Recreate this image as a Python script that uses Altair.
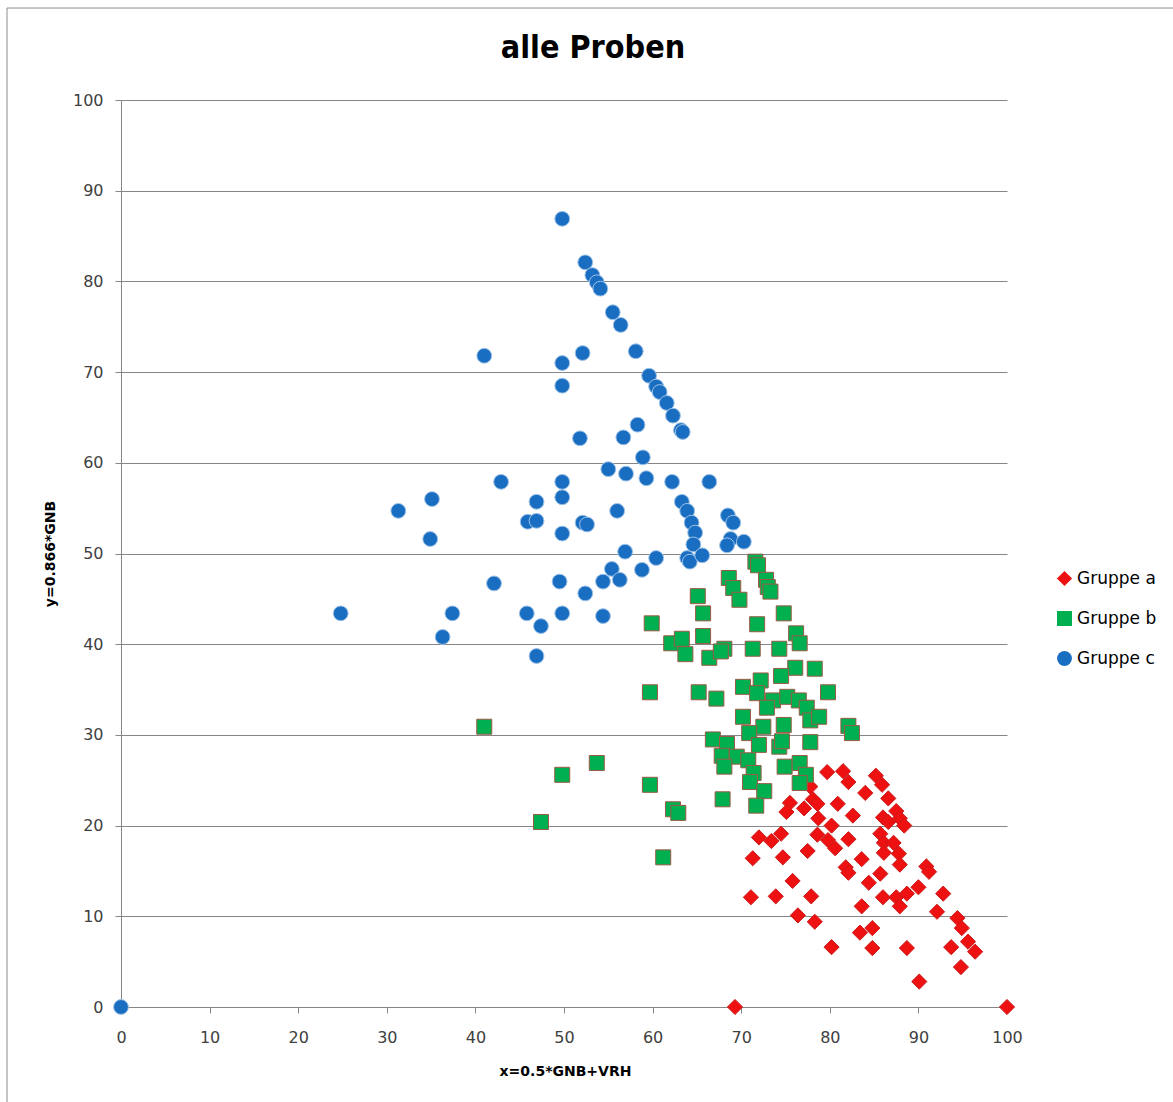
import altair as alt
import pandas as pd

# Gruppe a (red diamonds)
a_x = [79.7, 81.5, 82.1, 85.2, 85.9, 84.0, 86.6, 77.8, 78.1, 78.6, 75.5, 75.1, 77.1, 80.9,
       82.6, 78.7, 80.2, 86.0, 86.6, 87.5, 87.9, 88.4, 72.0, 73.4, 74.5, 78.6, 79.8, 80.6,
       82.1, 85.7, 86.1, 87.2, 71.3, 74.7, 77.5, 83.6, 86.1, 87.8, 87.9, 81.8, 82.1, 85.7,
       84.4, 90.9, 91.2, 75.8, 71.1, 73.9, 77.9, 86.0, 87.5, 88.7, 87.9, 90.0, 92.8, 83.6,
       76.4, 78.3, 92.1, 94.4, 94.9, 95.6, 96.4, 83.4, 84.8, 80.2, 84.8, 88.7, 93.7, 94.8,
       90.1, 69.3, 100.0]
a_y = [25.9, 26.0, 24.8, 25.5, 24.5, 23.6, 23.0, 24.3, 22.9, 22.4, 22.5, 21.5, 21.9, 22.4,
       21.1, 20.8, 20.0, 20.9, 20.4, 21.6, 20.8, 20.0, 18.7, 18.3, 19.1, 19.0, 18.4, 17.5,
       18.5, 19.1, 18.1, 18.1, 16.4, 16.5, 17.2, 16.3, 17.0, 16.9, 15.7, 15.4, 14.8, 14.7,
       13.7, 15.5, 14.9, 13.9, 12.1, 12.2, 12.2, 12.1, 12.1, 12.5, 11.1, 13.2, 12.5, 11.1,
       10.1, 9.4, 10.5, 9.8, 8.7, 7.2, 6.1, 8.2, 8.7, 6.6, 6.5, 6.5, 6.6, 4.4,
       2.8, 0.0, 0.0]

# Gruppe b (green squares)
b_x = [71.6, 71.9, 68.6, 69.1, 69.8, 72.8, 73.0, 73.3, 65.1, 65.7, 74.8, 59.9, 71.8, 76.2,
       76.6, 65.7, 62.1, 63.3, 63.7, 66.4, 68.1, 67.7, 71.3, 74.3, 76.1, 78.3, 74.5, 72.2,
       70.2, 59.7, 65.2, 67.2, 71.8, 73.6, 75.2, 76.5, 79.8, 72.9, 77.4, 77.8, 78.8, 70.2,
       72.5, 74.8, 82.1, 82.5, 70.9, 66.8, 68.4, 72.0, 74.3, 74.6, 77.8, 53.7, 67.8, 69.5,
       70.8, 68.1, 71.4, 71.0, 74.9, 76.6, 77.3, 76.6, 72.6, 67.9, 71.7, 59.7, 62.3, 62.9,
       41.0, 49.8, 47.4, 61.2]
b_y = [49.1, 48.7, 47.3, 46.2, 44.9, 47.1, 46.3, 45.8, 45.3, 43.4, 43.4, 42.3, 42.2, 41.2,
       40.1, 40.9, 40.1, 40.6, 38.9, 38.5, 39.5, 39.2, 39.5, 39.5, 37.4, 37.3, 36.5, 36.0,
       35.3, 34.7, 34.7, 34.0, 34.6, 33.8, 34.2, 33.8, 34.7, 33.0, 33.0, 31.6, 32.0, 32.0,
       30.9, 31.1, 31.0, 30.2, 30.2, 29.5, 29.0, 28.9, 28.7, 29.3, 29.2, 26.9, 27.7, 27.6,
       27.2, 26.5, 25.8, 24.8, 26.5, 26.9, 25.6, 24.7, 23.8, 22.9, 22.2, 24.5, 21.8, 21.4,
       30.9, 25.6, 20.4, 16.5]

# Gruppe c (blue circles)
c_x = [0.0, 49.8, 52.4, 53.2, 53.7, 54.1, 55.5, 56.4, 58.1, 41.0, 49.8, 52.1, 49.8, 59.6,
       60.4, 60.8, 61.6, 62.3, 63.2, 63.4, 51.8, 56.7, 58.3, 58.9, 55.0, 57.0, 59.3, 62.2,
       66.4, 49.8, 49.8, 56.0, 63.3, 63.9, 64.4, 64.8, 64.6, 52.1, 52.6, 49.8, 68.5, 69.1,
       68.8, 68.4, 70.3, 56.9, 60.4, 63.9, 64.2, 65.6, 55.4, 58.8, 54.4, 56.3, 49.5, 52.4,
       42.9, 35.1, 31.3, 34.9, 46.9, 45.9, 46.9, 42.1, 24.8, 37.4, 36.3, 45.8, 47.4, 46.9,
       49.8, 54.4]
c_y = [0.0, 86.9, 82.1, 80.7, 79.9, 79.2, 76.6, 75.2, 72.3, 71.8, 71.0, 72.1, 68.5, 69.6,
       68.4, 67.8, 66.6, 65.2, 63.6, 63.4, 62.7, 62.8, 64.2, 60.6, 59.3, 58.8, 58.3, 57.9,
       57.9, 57.9, 56.2, 54.7, 55.7, 54.7, 53.4, 52.3, 51.0, 53.4, 53.2, 52.2, 54.2, 53.4,
       51.6, 50.9, 51.3, 50.2, 49.5, 49.5, 49.1, 49.8, 48.3, 48.2, 46.9, 47.1, 46.9, 45.6,
       57.9, 56.0, 54.7, 51.6, 55.7, 53.5, 53.6, 46.7, 43.4, 43.4, 40.8, 43.4, 42.0, 38.7,
       43.4, 43.1]

groups = ["Gruppe a", "Gruppe b", "Gruppe c"]
x_ticks = list(range(0, 101, 10))
y_ticks = list(range(0, 101, 10))
title_text = "alle Proben"

rows = []
for g, xs, ys in zip(groups, [a_x, b_x, c_x], [a_y, b_y, c_y]):
    for xv, yv in zip(xs, ys):
        rows.append({"x": xv, "y": yv, "grp": g})
df = pd.DataFrame(rows)

W, H = 886, 907

points = alt.Chart(df).mark_point(filled=True, opacity=1, strokeWidth=1).encode(
    x=alt.X("x:Q", scale=alt.Scale(domain=[0, 100], nice=False),
            axis=alt.Axis(values=x_ticks, title="x=0.5*GNB+VRH", grid=False,
                          titleX=W / 2 + 1, titleY=64, titleBaseline="middle",
                          labelPadding=16, tickSize=6, labelFlush=False)),
    y=alt.Y("y:Q", scale=alt.Scale(domain=[0, 100], nice=False),
            axis=alt.Axis(values=y_ticks, title="y=0.866*GNB", grid=True,
                          titleX=-71, titleY=H / 2, titleBaseline="middle",
                          labelPadding=12, tickSize=6, labelFlush=False)),
    color=alt.Color("grp:N", scale=alt.Scale(domain=groups, range=["#ee1111", "#00b050", "#1a6ec2"]),
                    legend=alt.Legend(title=None, orient="none", legendX=935, legendY=470)),
    shape=alt.Shape("grp:N", scale=alt.Scale(domain=groups, range=["diamond", "square", "circle"]),
                    legend=alt.Legend(title=None, orient="none", legendX=935, legendY=470)),
    stroke=alt.Stroke("grp:N", scale=alt.Scale(domain=groups, range=["#cc1a1a", "#9a5a45", "#9fc3e8"]),
                      legend=None),
    size=alt.Size("grp:N", scale=alt.Scale(domain=groups, range=[230, 220, 170]), legend=None),
)

one = pd.DataFrame({"t": [title_text]})

frame = alt.Chart(one).mark_rect(
    fill="transparent", stroke="#8c8c8c", strokeWidth=1
).encode(
    x=alt.value(-114), x2=alt.value(1060), y=alt.value(-92), y2=alt.value(1010)
)

title = alt.Chart(one).mark_text(
    font="DejaVu Sans Condensed", fontSize=32, fontWeight="bold", color="#000000",
    align="center", baseline="middle"
).encode(
    text="t:N", x=alt.value(472), y=alt.value(-52)
)

chart = alt.layer(frame, title, points).properties(
    width=W, height=H,
    autosize=alt.AutoSizeParams(type="none"),
    padding={"left": 121, "top": 100, "right": 166, "bottom": 95},
).configure_view(stroke=None).configure_axis(
    labelFont="DejaVu Sans", labelFontSize=16, labelColor="#404040",
    titleFont="DejaVu Sans", titleFontSize=14, titleFontWeight="bold", titleColor="#000000",
    domainColor="#868686", tickColor="#868686", gridColor="#868686", gridOpacity=1,
    domainWidth=1, gridWidth=1,
).configure_legend(
    labelFont="DejaVu Sans", labelFontSize=17, labelColor="#000000",
    symbolSize=110, rowPadding=22, labelOffset=4, symbolStrokeWidth=0,
)

chart.save("out.html", embed_options={"renderer": "svg", "actions": False})
